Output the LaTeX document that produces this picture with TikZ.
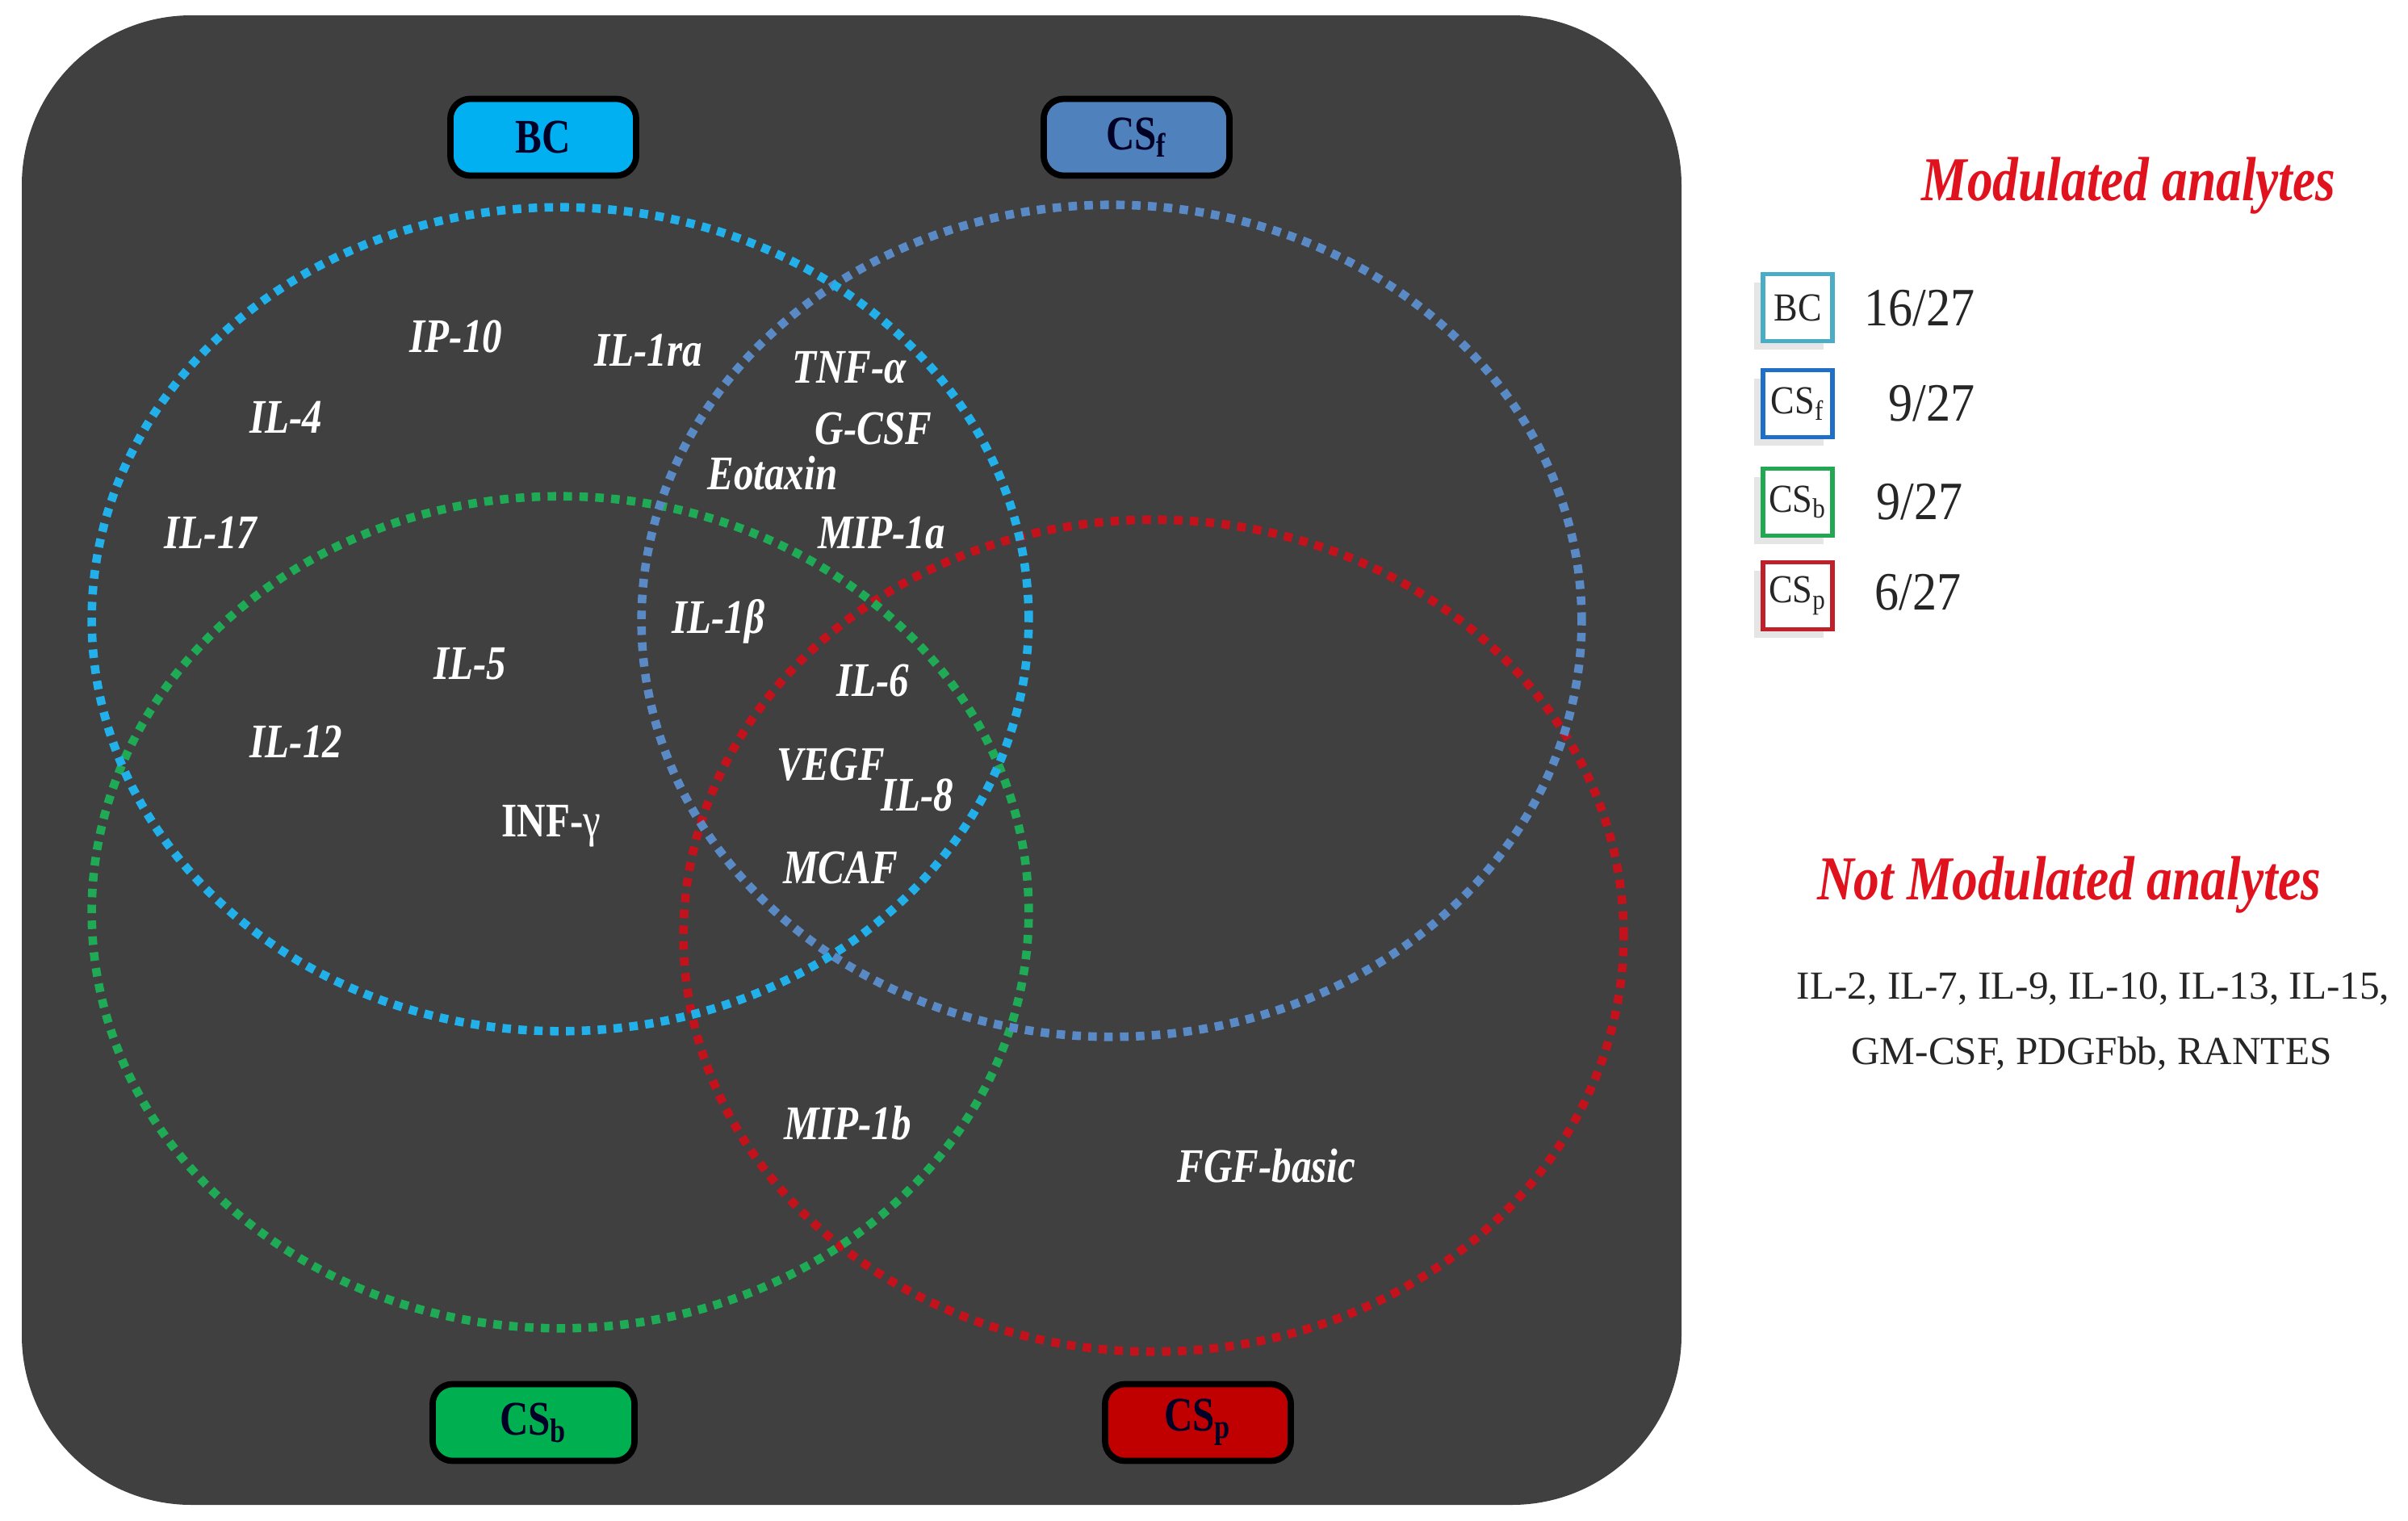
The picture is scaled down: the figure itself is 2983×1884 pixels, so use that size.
\documentclass[tikz,border=0pt]{standalone}
\usepackage{fontspec}
\setmainfont{Liberation Serif}
\newfontfamily\cond[FakeStretch=0.82]{Liberation Serif}
\newfontfamily\semicond[FakeStretch=0.9]{Liberation Serif}
\usetikzlibrary{shadows}
\definecolor{bgdark}{HTML}{404040}
\definecolor{bcell}{HTML}{22B0EA}
\definecolor{csfell}{HTML}{5A8AC6}
\definecolor{csbell}{HTML}{1FAA55}
\definecolor{cspell}{HTML}{C4121C}
\definecolor{bcfill}{HTML}{00B0F0}
\definecolor{csffill}{HTML}{4F81BD}
\definecolor{csbfill}{HTML}{00B050}
\definecolor{cspfill}{HTML}{C00000}
\definecolor{legbc}{HTML}{4BACC6}
\definecolor{legcsf}{HTML}{1F6FC6}
\definecolor{legcsb}{HTML}{22A852}
\definecolor{legcsp}{HTML}{C0202A}
\definecolor{titlered}{HTML}{E0121E}
\tikzset{
  vennline/.style={line width=3pt, dash pattern=on 3pt off 2.6pt},
  mainlab/.style={draw=black, line width=2.2pt, rounded corners=7pt,
    minimum width=2.3cm, minimum height=0.95cm, text=black!85!blue,
    font=\cond\bfseries\fontsize{17}{17}\selectfont},
  analyte/.style={text=white, inner sep=0pt,
    font=\cond\bfseries\itshape\fontsize{17}{17}\selectfont},
  legbox/.style={draw, fill=white, line width=1.6pt, minimum width=0.86cm,
    minimum height=0.83cm, inner sep=0pt, text=black!85,
    font=\semicond\fontsize{14}{14}\selectfont,
    drop shadow={opacity=0.2, shadow xshift=-3pt, shadow yshift=-3pt}},
  legnum/.style={text=black!85, font=\semicond\fontsize{19}{19}\selectfont},
  redtitle/.style={text=titlered, font=\cond\bfseries\itshape\fontsize{22}{22}\selectfont},
  plaintext/.style={text=black!85, font=\fontsize{14}{14}\selectfont}
}
\begin{document}
\begin{tikzpicture}[x=0.01cm, y=-0.01cm]
\useasboundingbox (0,0) rectangle (2983,1884);
\fill[white] (0,0) rectangle (2983,1884);
% dark panel
\fill[bgdark, rounded corners=2.1cm] (27,19) rectangle (2083,1864);
% ellipses
\draw[vennline, cspell] (1429,1159) ellipse [x radius=5.82cm, y radius=5.15cm];
\draw[vennline, csbell] (694,1130) ellipse [x radius=5.80cm, y radius=5.15cm];
\draw[vennline, csfell] (1377,769) ellipse [x radius=5.82cm, y radius=5.15cm];
\draw[vennline, bcell] (694,767) ellipse [x radius=5.80cm, y radius=5.10cm];
% set labels
\node[mainlab, fill=bcfill] (lbc) at (673,170) {BC};
\node[mainlab, fill=csffill] (lcsf) at (1408,170) {CS\textsubscript{f}};
\node[mainlab, fill=csbfill, minimum width=2.5cm] (lcsb) at (661,1762) {CS\textsubscript{b}};
\node[mainlab, fill=cspfill] (lcsp) at (1484,1762) {CS\textsubscript{p}};
% analytes
\node[analyte] (a1) at (565,417) {IP-10};
\node[analyte] (a2) at (803,434) {IL-1ra};
\node[analyte] (a3) at (1052,455) {TNF-α};
\node[analyte] (a4) at (354,517) {IL-4};
\node[analyte] (a5) at (1082,531) {G-CSF};
\node[analyte] (a6) at (957,586) {Eotaxin};
\node[analyte] (a7) at (261,660) {IL-17};
\node[analyte] (a8) at (1092,660) {MIP-1a};
\node[analyte] (a9) at (890,770) {IL-1β};
\node[analyte] (a10) at (582,822) {IL-5};
\node[analyte] (a11) at (1081,843) {IL-6};
\node[analyte] (a12) at (367,919) {IL-12};
\node[analyte] (a13) at (1029,947) {VEGF};
\node[analyte] (a14) at (1136,985) {IL-8};
\node[analyte, font=\cond\bfseries\fontsize{17}{17}\selectfont] (a15) at (683,1023) {INF-{\mdseries γ}};
\node[analyte] (a16) at (1041,1075) {MCAF};
\node[analyte] (a17) at (1050,1391) {MIP-1b};
\node[analyte] (a18) at (1569,1444) {FGF-basic};
% legend
\node[redtitle] (t1) at (2637,230) {Modulated analytes};
\node[legbox, draw=legbc] (k1) at (2227,381) {BC};
\node[legnum] (n1) at (2378,382) {16/27};
\node[legbox, draw=legcsf] (k2) at (2227,500) {CS\textsubscript{f}};
\node[legnum] (n2) at (2393,500) {9/27};
\node[legbox, draw=legcsb] (k3) at (2227,622) {CS\textsubscript{b}};
\node[legnum] (n3) at (2378,622) {9/27};
\node[legbox, draw=legcsp] (k4) at (2227,738) {CS\textsubscript{p}};
\node[legnum] (n4) at (2376,734) {6/27};
\node[redtitle] (t2) at (2563,1096) {Not Modulated analytes};
\node[plaintext] (p1) at (2593,1225) {IL-2, IL-7, IL-9, IL-10, IL-13, IL-15,};
\node[plaintext] (p2) at (2591,1305) {GM-CSF, PDGFbb, RANTES};
\end{tikzpicture}
\end{document}
